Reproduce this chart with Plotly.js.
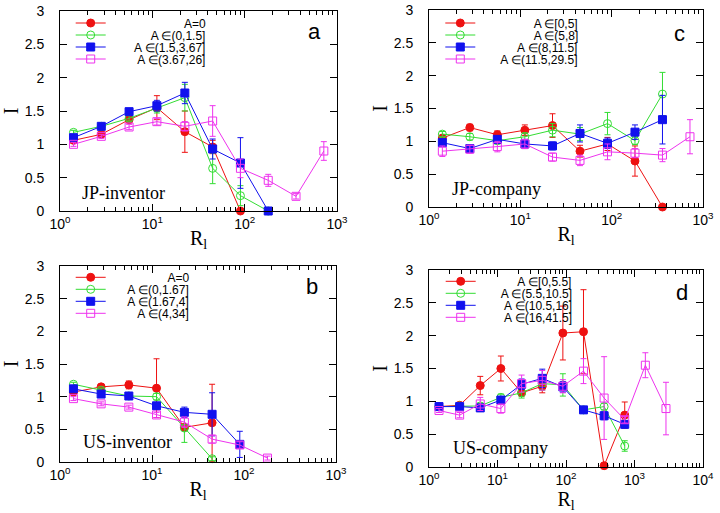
<!DOCTYPE html>
<html><head><meta charset="utf-8">
<script src="https://cdn.plot.ly/plotly-3.0.1.min.js"></script>
<style>html,body{margin:0;padding:0;background:#fff}</style>
</head><body><div id="chart" style="width:720px;height:513px"></div>
<script>
// ---------- DATA ----------
const R = [1.4, 2.8, 5.6, 11.2, 22.5, 45, 90, 180, 360, 720, 1440, 2880];
const xTickVals = [1, 10, 100, 1000, 10000];
const xTickText = ['10<sup>0</sup>', '10<sup>1</sup>', '10<sup>2</sup>', '10<sup>3</sup>', '10<sup>4</sup>'];
const yTickVals = [0, 0.5, 1, 1.5, 2, 2.5, 3];
const yTickText = ['0', '0.5', '1', '1.5', '2', '2.5', '3'];

// panel a : JP-inventor
const aNames = ['A=0', 'A ∈(0,1.5]', 'A ∈(1.5,3.67]', 'A ∈(3.67,26]'];
const aRedY  = [1.06, 1.15, 1.37, 1.55, 1.19, 0.96, 0];
const aRedE  = [0.03, 0.03, 0.04, 0.18, 0.31, 0.10, 0];
const aGrnY  = [1.18, 1.27, 1.39, 1.54, 1.70, 0.64, 0.23, 0];
const aGrnE  = [0.03, 0.03, 0.04, 0.07, 0.20, 0.23, 0.15, 0];
const aBluY  = [1.10, 1.27, 1.49, 1.58, 1.77, 0.93, 0.72, 0];
const aBluE  = [0.03, 0.03, 0.04, 0.08, 0.16, 0.15, 0.38, 0];
const aPnkY  = [1.00, 1.12, 1.26, 1.34, 1.27, 1.35, 0.64, 0.46, 0.22, 0.90];
const aPnkE  = [0.03, 0.03, 0.04, 0.05, 0.07, 0.23, 0.14, 0.09, 0.04, 0.14];

// panel c : JP-company
const cNames = ['A ∈[0,5]', 'A ∈(5,8]', 'A ∈(8,11.5]', 'A ∈(11.5,29.5]'];
const cRedY  = [1.05, 1.21, 1.10, 1.17, 1.24, 0.85, 0.96, 0.70, 0];
const cRedE  = [0.03, 0.05, 0.06, 0.08, 0.18, 0.09, 0.10, 0.23, 0];
const cGrnY  = [1.11, 1.07, 1.01, 1.07, 1.17, 1.11, 1.27, 1.01, 1.72];
const cGrnE  = [0.04, 0.05, 0.05, 0.06, 0.10, 0.10, 0.17, 0.06, 0.33];
const cBluY  = [0.98, 0.89, 1.03, 0.96, 0.93, 1.12, 0.97, 1.14, 1.33];
const cBluE  = [0.04, 0.04, 0.05, 0.07, 0.06, 0.13, 0.08, 0.11, 0.37];
const cPnkY  = [0.85, 0.88, 0.92, 0.96, 0.76, 0.71, 0.84, 0.82, 0.79, 1.07];
const cPnkE  = [0.08, 0.06, 0.08, 0.07, 0.06, 0.08, 0.12, 0.07, 0.10, 0.26];

// panel b : US-inventor
const bNames = ['A=0', 'A ∈(0,1.67]', 'A ∈(1.67,4]', 'A ∈(4,34]'];
const bRedY  = [1.07, 1.15, 1.18, 1.13, 0.53, 0.60];
const bRedE  = [0.03, 0.03, 0.06, 0.45, 0.05, 0.59];
const bGrnY  = [1.19, 1.10, 1.01, 1.00, 0.52, 0.05];
const bGrnE  = [0.03, 0.03, 0.03, 0.05, 0.22, 0.03];
const bBluY  = [1.12, 1.04, 1.01, 0.86, 0.76, 0.73, 0.27];
const bBluE  = [0.03, 0.03, 0.03, 0.05, 0.08, 0.33, 0.20];
const bPnkY  = [0.97, 0.89, 0.84, 0.72, 0.61, 0.35, 0.26, 0.06];
const bPnkE  = [0.03, 0.03, 0.03, 0.04, 0.08, 0.06, 0.05, 0.03];

// panel d : US-company
const dNames = ['A ∈[0,5.5]', 'A ∈(5.5,10.5]', 'A ∈(10.5,16]', 'A ∈(16,41.5]'];
const dRedY  = [0.92, 0.94, 1.24, 1.50, 1.13, 1.23, 2.04, 2.06, 0.02, 0.79];
const dRedE  = [0.03, 0.03, 0.14, 0.19, 0.05, 0.10, 0.41, 0.64, 0, 0.20];
const dGrnY  = [0.92, 0.93, 0.93, 1.06, 1.13, 1.27, 1.25, 0.87, 0.92, 0.32];
const dGrnE  = [0.03, 0.03, 0.04, 0.05, 0.08, 0.10, 0.17, 0.05, 0.05, 0.08];
const dBluY  = [0.92, 0.92, 0.90, 1.02, 1.26, 1.35, 1.22, 0.87, 0.78, 0.65];
const dBluE  = [0.03, 0.03, 0.05, 0.05, 0.08, 0.14, 0.08, 0.05, 0.06, 0.05];
const dPnkY  = [0.86, 0.79, 0.96, 0.89, 1.27, 1.32, 1.23, 1.46, 1.05, 0.72, 1.55, 0.89];
const dPnkE  = [0.03, 0.04, 0.10, 0.07, 0.13, 0.15, 0.10, 0.19, 0.63, 0.05, 0.19, 0.40];

const panelTexts = ['JP-inventor', 'JP-company', 'US-inventor', 'US-company'];
const panelLetters = ['a', 'c', 'b', 'd'];

// ---------- STYLE / LAYOUT ----------
const colors = ['#ee1111', '#33dd33', '#1111ee', '#ee33ee'];
const symbols = ['circle', 'circle-open', 'square', 'square-open'];
const W = 720, H = 513;

const panels = [
  {names: aNames, ys: [aRedY, aGrnY, aBluY, aPnkY], es: [aRedE, aGrnE, aBluE, aPnkE],
   box: [60, 337, 11, 211], xmax: 3, legX: 70.7, legRight: 205, legRows: [23, 35, 47, 59],
   txt: [0.231, 0.09], let: [0.92, 0.895], ytitle: 0, xtitle: 0},
  {names: cNames, ys: [cRedY, cGrnY, cBluY, cPnkY], es: [cRedE, cGrnE, cBluE, cPnkE],
   box: [429, 703, 10, 207], xmax: 3, legX: 440.3, legRight: 578, legRows: [23, 35, 47, 59],
   txt: [0.248, 0.091], let: [0.916, 0.883], ytitle: 0, xtitle: 0},
  {names: bNames, ys: [bRedY, bGrnY, bBluY, bPnkY], es: [bRedE, bGrnE, bBluE, bPnkE],
   box: [60, 336, 266, 462], xmax: 3, legX: 70.7, legRight: 188, legRows: [277.3, 289.3, 301.3, 313.3],
   txt: [0.246, 0.104], let: [0.913, 0.893], ytitle: 0, xtitle: 0},
  {names: dNames, ys: [dRedY, dGrnY, dBluY, dPnkY], es: [dRedE, dGrnE, dBluE, dPnkE],
   box: [429, 703, 270, 467], xmax: 4, legX: 440.7, legRight: 573, legRows: [281.3, 293.3, 305.3, 317.3],
   txt: [0.26, 0.096], let: [0.923, 0.888], ytitle: 0, xtitle: 6}
];

const ctx = document.createElement('canvas').getContext('2d');
ctx.font = '12px "Liberation Sans"';
const nbspW = ctx.measureText('\u00A0').width || 3.33;
function padName(t, width) {
  const n = Math.max(0, Math.round((width - ctx.measureText(t).width) / nbspW));
  return '\u00A0'.repeat(n) + t;
}

const minorVals = [];
for (let d = 0; d < 4; d++) for (let k = 2; k <= 9; k++) minorVals.push(k * Math.pow(10, d));

const traces = [];
const layout = {
  width: W, height: H, margin: {l: 0, r: 0, t: 0, b: 0},
  paper_bgcolor: '#fff', plot_bgcolor: '#fff',
  font: {family: 'Liberation Sans, Arial, sans-serif', size: 14, color: '#000'},
  annotations: [], showlegend: true
};

let legIdx = 0;
panels.forEach((p, pi) => {
  const sfx = pi === 0 ? '' : String(pi + 1);
  const xa = 'x' + sfx, ya = 'y' + sfx;
  const [l, r, t, b] = p.box;
  layout['xaxis' + sfx] = {
    type: 'log', range: [0, p.xmax], domain: [l / W, r / W], anchor: ya,
    tickmode: 'array', tickvals: xTickVals, ticktext: xTickText,
    ticks: 'inside', ticklen: 7, tickwidth: 1, tickcolor: '#000',
    minor: {tickmode: 'array', tickvals: minorVals, ticks: 'inside', ticklen: 4, tickwidth: 1, tickcolor: '#000', showgrid: false},
    showline: true, linecolor: '#000', linewidth: 1, mirror: 'ticks', showgrid: false, zeroline: false,
    tickfont: {family: 'Liberation Sans', size: 14, color: '#000'},
    title: {text: 'R<sub>l</sub>', font: {family: 'Liberation Serif', size: 20, color: '#000'}, standoff: p.xtitle}
  };
  layout['yaxis' + sfx] = {
    range: [0, 3], domain: [1 - b / H, 1 - t / H], anchor: xa,
    tickmode: 'array', tickvals: yTickVals, ticktext: yTickText,
    ticks: 'inside', ticklen: 7, tickwidth: 1, tickcolor: '#000', ticklabelstandoff: 12,
    showline: true, linecolor: '#000', linewidth: 1, mirror: 'ticks', showgrid: false, zeroline: false,
    tickfont: {family: 'Liberation Sans', size: 14, color: '#000'},
    title: {text: 'I', font: {family: 'Liberation Serif', size: 20, color: '#000'}, standoff: p.ytitle}
  };
  p.ys.forEach((yv, si) => {
    legIdx++;
    const lg = legIdx === 1 ? 'legend' : 'legend' + legIdx;
    traces.push({
      type: 'scatter', mode: 'lines+markers', xaxis: xa, yaxis: ya,
      x: R.slice(0, yv.length), y: yv,
      name: padName(p.names[si], p.legRight - (p.legX + 40)),
      legend: lg, showlegend: true, cliponaxis: false,
      line: {color: colors[si], width: 1},
      marker: {symbol: symbols[si], size: 8, color: colors[si], line: {color: colors[si], width: 1}},
      error_y: {type: 'data', array: p.es[si], visible: true, color: colors[si], thickness: 1, width: 3}
    });
    layout[lg] = {
      x: p.legX / W, y: 1 - p.legRows[si] / H, xref: 'paper', yref: 'paper',
      xanchor: 'left', yanchor: 'middle', bgcolor: 'rgba(0,0,0,0)', borderwidth: 0,
      font: {family: 'Liberation Sans', size: 12, color: '#000'}, itemwidth: 30, itemclick: false
    };
  });
  layout.annotations.push({
    xref: xa + ' domain', yref: ya + ' domain', x: p.txt[0], y: p.txt[1], showarrow: false,
    xanchor: 'center', yanchor: 'middle',
    text: panelTexts[pi], font: {family: 'Liberation Serif', size: 18, color: '#000'}
  });
  layout.annotations.push({
    xref: xa + ' domain', yref: ya + ' domain', x: p.let[0], y: p.let[1], showarrow: false,
    xanchor: 'center', yanchor: 'middle',
    text: panelLetters[pi], font: {family: 'Liberation Sans', size: 22, color: '#000'}
  });
});

Plotly.newPlot('chart', traces, layout, {displayModeBar: false, staticPlot: true});
</script></body></html>
